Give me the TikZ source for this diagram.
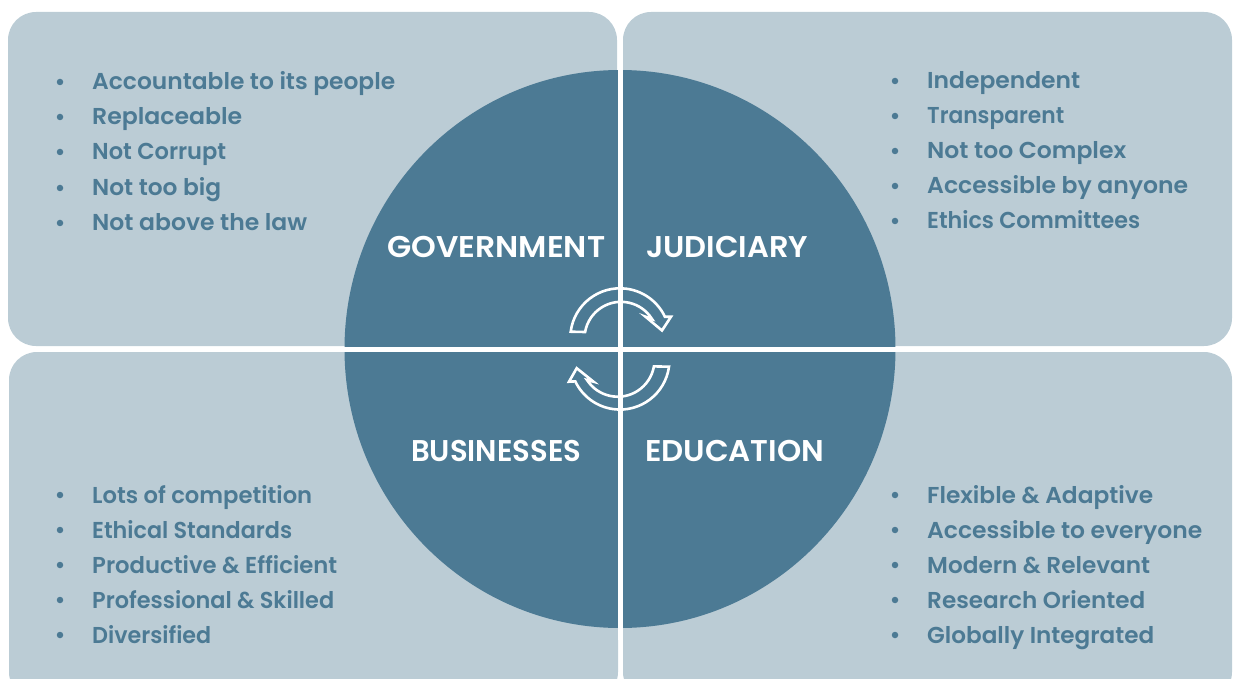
\documentclass[tikz,border=0pt]{standalone}
\usepackage{fontspec}
\setmainfont{Poppins}[BoldFont={Poppins SemiBold}]
\definecolor{deepteal}{HTML}{4C7A94}
\definecolor{paleteal}{HTML}{BBCCD5}
\newcommand{\fitw}[2]{\resizebox{#1pt}{\height}{#2}}
\tikzset{
  panel/.style={fill=paleteal, rounded corners=28},
  item/.style={anchor=base west, inner sep=0pt, text=deepteal, font=\fontsize{23}{23}\selectfont\bfseries},
  dot/.style={fill=deepteal, circle, inner sep=0pt, minimum size=6.5pt},
  quarter/.style={anchor=base west, inner sep=0pt, text=white, font=\fontsize{30}{30}\selectfont\bfseries},
  turn/.style={draw=white, line width=2.6pt, line join=miter, fill=none}
}
\begin{document}
\begin{tikzpicture}[x=1pt,y=1pt]
\useasboundingbox (0,0) rectangle (1237,-679);
\begin{scope}
\clip (0,0) rectangle (1237,-679);
\fill[panel] (8,-12) rectangle (617,-346);
\fill[panel] (623,-12) rectangle (1232,-346);
\fill[panel] (9,-352) rectangle (618,-700);
\fill[panel] (623,-352) rectangle (1232,-700);
\end{scope}
% big disc and its cross
\fill[deepteal] (620,-349) ellipse [x radius=275.5, y radius=279];
\draw[white, line width=5pt] (620,-60)--(620,-640);
\draw[white, line width=5pt] (340,-349)--(900,-349);
% quarter names
\draw (387,-258) node[quarter](gov){\fitw{218}{GOVERNMENT}};
\draw (646,-258) node[quarter](jud){\fitw{162}{JUDICIARY}};
\draw (411,-461) node[quarter](bus){\fitw{170}{BUSINESSES}};
\draw (645,-461) node[quarter](edu){\fitw{179}{EDUCATION}};
% turning arrows
\draw[turn] (570.7,-331.7) arc[start angle=172.7, end angle=25.3, radius=49.7]
  -- (671,-316.7) -- (662,-330.5) -- (645.5,-316.7) -- (652,-319)
  arc[start angle=32, end angle=170, radius=36.5] -- cycle;
\draw[turn] (669,-366.7) arc[start angle=-7.7, end angle=-154.5, radius=49.5]
  -- (569,-381.7) -- (576.7,-368.2) -- (593.5,-381.7) -- (587,-380)
  arc[start angle=-147, end angle=-10, radius=36.7] -- cycle;
% top left
\foreach \y/\w/\txt [count=\n] in {90/303/Accountable to its people,125/150/Replaceable,160/134/Not Corrupt,196/129/Not too big,231/215/Not above the law}{
  \draw (92,-\y) node[item](gl\n){\fitw{\w}{\txt}};
  \draw (60,-\y+8) node[dot](gd\n){};
}
% top right
\foreach \y/\w/\txt [count=\n] in {89/153/Independent,124/137/Transparent,159/199/Not too Complex,194/261/Accessible by anyone,229/213/Ethics Committees}{
  \draw (927,-\y) node[item](jl\n){\fitw{\w}{\txt}};
  \draw (895,-\y+8) node[dot](jd\n){};
}
% bottom left
\foreach \y/\w/\txt [count=\n] in {503/220/Lots of competition,538/200/Ethical Standards,573/245/Productive \& Efficient,608/242/Professional \& Skilled,643/119/Diversified}{
  \draw (92,-\y) node[item](bl\n){\fitw{\w}{\txt}};
  \draw (60,-\y+8) node[dot](bd\n){};
}
% bottom right
\foreach \y/\w/\txt [count=\n] in {503/226/Flexible \& Adaptive,538/275/Accessible to everyone,573/223/Modern \& Relevant,608/218/Research Oriented,643/227/Globally Integrated}{
  \draw (927,-\y) node[item](el\n){\fitw{\w}{\txt}};
  \draw (895,-\y+8) node[dot](ed\n){};
}
\end{tikzpicture}
\end{document}
